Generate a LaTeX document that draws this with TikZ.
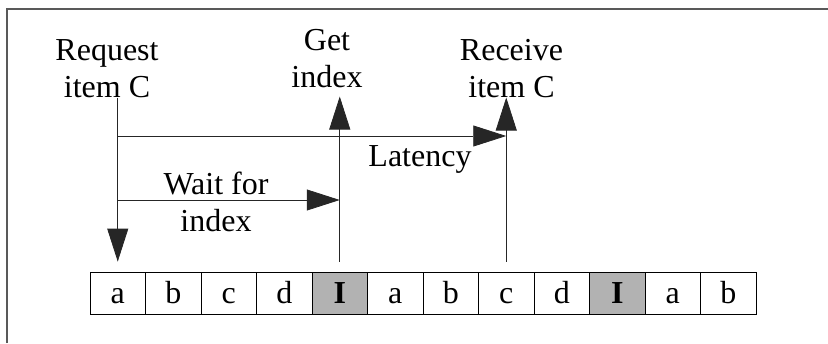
\documentclass[tikz,border=0pt]{standalone}
\usepackage{fontspec}
\setmainfont{Liberation Serif}
\usetikzlibrary{arrows.meta}

\begin{document}
\begin{tikzpicture}[x=1pt, y=-1pt,
		font=\fontsize{32}{37}\selectfont,
		cell/.style={
			rectangle, draw=black, line width=0.8pt, minimum width=55.5pt, minimum height=42pt,
			inner sep=0pt, text height=20pt, text depth=0pt
		},
		lbl/.style={align=center, inner sep=0pt, anchor=base},
		arr/.style={-{Triangle[length=33pt, width=21pt]}, draw=black!85, line width=0.8pt},
	]
	\useasboundingbox (0,0) rectangle (828,343);
	% frame
	\draw[black!65, line width=1.5pt] (7,343) -- (7,9) -- (828,9);

	% the stream of items
	\foreach \l/\f [count=\i] in {a/white,b/white,c/white,d/white,\textbf{I}/black!30,
			a/white,b/white,c/white,d/white,\textbf{I}/black!30,a/white,b/white}
		\node[cell, fill=\f] (cell\i) at (62.25+55.5*\i, 293) {\l};

	% labels (base = last line)
	\node[lbl] (req) at (107,97) {Request\\item C};
	\node[lbl] (get) at (327,87) {Get\\index};
	\node[lbl] (rcv) at (511.5,97) {Receive\\item C};
	\node[lbl] (lat) at (420,166) {Latency};
	\node[lbl] (wait) at (216,231) {Wait for\\index};

	\coordinate (latY) at (0,136);
	\coordinate (waitY) at (0,200);

	% arrows
	\draw[arr] (cell1 |- req.south) -- ([yshift=10pt]cell1.north);
	\draw[arr] ([yshift=10pt]cell5.north) -- (cell5.center |- get.south) [shorten >=9pt];
	\draw[arr] ([yshift=10pt]cell8.north) -- (cell8.center |- rcv.south);
	\draw[arr] (cell1 |- latY) -- (cell8 |- latY);
	\draw[arr] (cell1 |- waitY) -- (cell5 |- waitY);

\end{tikzpicture}
\end{document}
